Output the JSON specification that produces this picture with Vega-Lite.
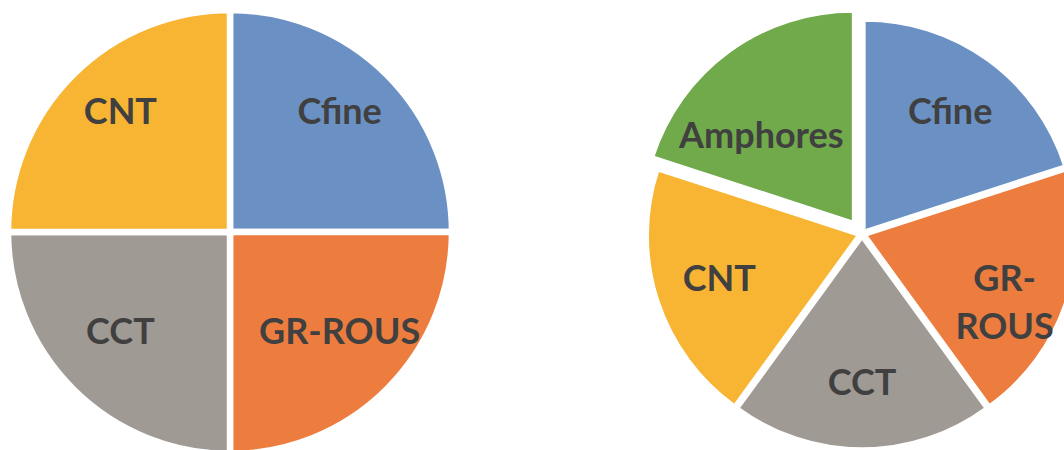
{
  "$schema": "https://vega.github.io/schema/vega-lite/v6.json",
  "padding": 0,
  "background": "white",
  "spacing": 184,
  "config": {"view": {"stroke": null}},
  "hconcat": [
    {
      "width": 460,
      "height": 450,
      "data": {"values": [
        {"i": 1, "cat": "Cfine", "v": 25, "lab": "Cfine"},
        {"i": 2, "cat": "GR-ROUS", "v": 25, "lab": "GR-ROUS"},
        {"i": 3, "cat": "CCT", "v": 25, "lab": "CCT"},
        {"i": 4, "cat": "CNT", "v": 25, "lab": "CNT"}
      ]},
      "encoding": {
        "theta": {"field": "v", "type": "quantitative", "stack": true},
        "order": {"field": "i", "type": "quantitative"}
      },
      "layer": [
        {
          "mark": {"type": "arc", "radius": 222, "stroke": "white", "strokeWidth": 6.5, "yOffset": 7, "clip": true},
          "encoding": {
            "color": {"field": "cat", "type": "nominal", "legend": null,
              "scale": {"domain": ["Cfine", "GR-ROUS", "CCT", "CNT", "Amphores"], "range": ["#6B91C4", "#ED7D3F", "#A09A95", "#F8B433", "#70AA4A"]}}
          }
        },
        {
          "mark": {"type": "text", "radius": 155, "dy": -2, "font": "Lato", "fontWeight": "bold", "fontSize": 36, "color": "#404040", "align": "center", "baseline": "middle"},
          "encoding": {"text": {"field": "lab", "type": "nominal"}, "detail": {"field": "cat", "type": "nominal"}}
        }
      ]
    },
    {
      "width": 420,
      "height": 450,
      "data": {"values": [
        {"i": 1, "cat": "Cfine", "v": 20, "lab": "Cfine"},
        {"i": 2, "cat": "GR-ROUS", "v": 20, "lab": "GR-\nROUS"},
        {"i": 3, "cat": "CCT", "v": 20, "lab": "CCT"},
        {"i": 4, "cat": "CNT", "v": 20, "lab": "CNT"},
        {"i": 5, "cat": "Amphores", "v": 20, "lab": "Amphores"}
      ]},
      "transform": [
        {"stack": "v", "groupby": [], "sort": [{"field": "i", "order": "ascending"}], "as": ["s0", "s1"]}
      ],
      "encoding": {
        "theta": {"field": "s0", "type": "quantitative", "scale": {"domain": [0, 100]}}
      },
      "layer": [
        {
          "transform": [{"filter": "datum.cat === 'Cfine'"}],
          "mark": {"type": "arc", "radius": 209, "stroke": "white", "strokeWidth": 1.5, "xOffset": 10.9, "yOffset": 5, "clip": true},
          "encoding": {
            "theta2": {"field": "s1"},
            "color": {"field": "cat", "type": "nominal", "legend": null,
              "scale": {"domain": ["Cfine", "GR-ROUS", "CCT", "CNT", "Amphores"], "range": ["#6B91C4", "#ED7D3F", "#A09A95", "#F8B433", "#70AA4A"]}}
          }
        },
        {
          "transform": [{"filter": "datum.cat === 'GR-ROUS'"}],
          "mark": {"type": "arc", "radius": 209, "stroke": "white", "strokeWidth": 1.5, "xOffset": 12.8, "yOffset": 10.5, "clip": true},
          "encoding": {
            "theta2": {"field": "s1"},
            "color": {"field": "cat", "type": "nominal", "legend": null,
              "scale": {"domain": ["Cfine", "GR-ROUS", "CCT", "CNT", "Amphores"], "range": ["#6B91C4", "#ED7D3F", "#A09A95", "#F8B433", "#70AA4A"]}}
          }
        },
        {
          "transform": [{"filter": "datum.cat === 'CCT'"}],
          "mark": {"type": "arc", "radius": 209, "stroke": "white", "strokeWidth": 1.5, "xOffset": 8, "yOffset": 14, "clip": true},
          "encoding": {
            "theta2": {"field": "s1"},
            "color": {"field": "cat", "type": "nominal", "legend": null,
              "scale": {"domain": ["Cfine", "GR-ROUS", "CCT", "CNT", "Amphores"], "range": ["#6B91C4", "#ED7D3F", "#A09A95", "#F8B433", "#70AA4A"]}}
          }
        },
        {
          "transform": [{"filter": "datum.cat === 'CNT'"}],
          "mark": {"type": "arc", "radius": 209, "stroke": "white", "strokeWidth": 1.5, "xOffset": 3.2, "yOffset": 10.5, "clip": true},
          "encoding": {
            "theta2": {"field": "s1"},
            "color": {"field": "cat", "type": "nominal", "legend": null,
              "scale": {"domain": ["Cfine", "GR-ROUS", "CCT", "CNT", "Amphores"], "range": ["#6B91C4", "#ED7D3F", "#A09A95", "#F8B433", "#70AA4A"]}}
          }
        },
        {
          "transform": [{"filter": "datum.cat === 'Amphores'"}],
          "mark": {"type": "arc", "radius": 209, "stroke": "white", "strokeWidth": 1.5, "xOffset": -1.4, "yOffset": -3.9, "clip": true},
          "encoding": {
            "theta2": {"field": "s1"},
            "color": {"field": "cat", "type": "nominal", "legend": null,
              "scale": {"domain": ["Cfine", "GR-ROUS", "CCT", "CNT", "Amphores"], "range": ["#6B91C4", "#ED7D3F", "#A09A95", "#F8B433", "#70AA4A"]}}
          }
        },
        {
          "transform": [{"filter": "datum.cat !== 'Amphores'"}],
          "mark": {"type": "text", "radius": 150, "thetaOffset": 0.6283, "dx": 8, "dy": 9, "lineBreak": "\n", "lineHeight": 48, "font": "Lato", "fontWeight": "bold", "fontSize": 36, "color": "#404040", "align": "center", "baseline": "middle"},
          "encoding": {
            "text": {"field": "lab", "type": "nominal"}
          }
        },
        {
          "transform": [{"filter": "datum.cat === 'Amphores'"}],
          "mark": {"type": "text", "radius": 140, "thetaOffset": 0.454, "dx": 8, "dy": 9, "font": "Lato", "fontWeight": "bold", "fontSize": 36, "color": "#404040", "align": "center", "baseline": "middle"},
          "encoding": {
            "text": {"field": "lab", "type": "nominal"}
          }
        }
      ]
    }
  ]
}
